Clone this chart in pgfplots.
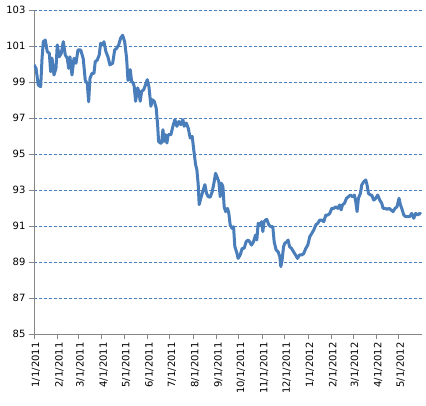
\documentclass[border=0pt]{standalone}
\usepackage{fontspec}
\setmainfont{DejaVu Sans}
\usepackage{pgfplots}
\usepackage{pgfplotstable}
\pgfplotsset{compat=1.18}
\definecolor{lineblue}{RGB}{74,126,187}
\definecolor{axgray}{RGB}{134,134,134}

\pgfplotstableread{
day val
0 99.95
2.7 99.76
5.7 98.83
8.9 98.74
10.7 100.3
12.4 101.24
15.0 101.33
17.7 100.68
20.4 100.6
22.2 99.57
24.0 100.32
26.6 99.39
29.3 99.76
31.0 101.06
33.7 100.4
36.4 100.6
39.0 101.24
41.7 100.5
44.3 100.32
46.2 99.76
47.9 100.4
50.6 99.39
53.3 100.32
55.9 100.04
58.6 100.78
62.2 100.78
65.6 100.3
68.3 99.1
71.0 98.9
72.8 97.9
74.6 99.2
77.2 99.48
79.9 99.48
81.6 100.13
84.3 100.22
86.9 100.5
88.8 101.15
91.5 101.06
93.2 101.24
95.9 100.68
98.5 100.4
101.2 99.95
104.8 100.04
107.5 100.78
110.1 100.87
112.8 101.06
115.4 101.43
118.1 101.6
120.8 101.24
123.4 100.32
125.2 99.1
126.5 99.13
128.2 99.69
130.1 99.04
132.2 98.94
133.5 98.76
135.4 97.93
138.1 98.67
139.8 98.48
141.5 97.93
143.4 98.48
146.1 98.57
148.7 98.85
150.9 99.13
153.1 98.76
155.8 97.65
157.5 98.02
160.2 97.93
162.8 97.56
164.7 96.63
166.0 95.7
168.2 95.61
170.0 95.61
171.8 96.35
173.5 95.7
175.4 96.07
177.1 95.61
178.8 96.07
182.4 96.07
185.1 96.54
187.7 96.91
190.4 96.54
193.1 96.81
195.7 96.63
198.4 96.91
200.1 96.54
202.8 96.72
205.5 96.44
208.1 95.89
210.8 95.98
212.6 95.33
215.3 94.41
217.0 94.13
218.8 93.3
220.1 92.19
222.4 92.56
225.0 92.93
227.7 93.3
229.9 92.81
232.1 92.63
234.7 92.6
237.4 92.9
240.1 93.46
241.9 93.93
244.6 93.65
246.3 93.46
248.1 92.63
249.9 93.37
251.7 93.19
253.4 92.07
255.3 91.8
257.9 91.98
259.6 91.7
261.4 91.06
264.0 90.87
265.9 90.96
267.6 89.85
269.9 89.57
272.0 89.2
274.7 89.39
277.4 89.76
280.0 89.76
282.7 90.13
285.3 90.22
287.2 90.13
289.9 89.94
292.5 90.13
295.2 90.5
296.9 90.22
298.7 91.15
301.3 91.06
303.2 91.24
304.9 90.69
306.6 91.24
308.5 91.33
310.2 91.37
312.9 91.06
315.6 90.96
318.2 90.96
320.0 90.13
322.6 89.67
325.3 89.57
327.5 89.3
328.9 88.74
330.6 89.11
332.5 89.85
334.2 90.04
336.9 90.13
338.6 90.22
340.5 89.85
343.1 89.76
345.8 89.57
348.5 89.39
351.1 89.2
353.8 89.39
356.4 89.39
359.1 89.45
362.2 89.76
364.8 89.94
367.5 90.41
370.2 90.59
372.8 90.78
375.5 91.06
378.1 91.15
380.8 91.33
383.5 91.33
386.1 91.24
388.8 91.61
391.5 91.61
394.1 91.7
396.8 91.98
399.5 91.98
402.1 92.07
404.8 91.98
407.4 92.17
409.2 91.89
411.0 92.17
413.7 92.26
416.4 92.54
419.0 92.63
421.7 92.72
424.4 92.63
427.0 92.72
428.7 92.35
430.5 91.8
432.3 92.54
435.0 92.81
436.7 93.28
439.4 93.46
442.1 93.56
443.8 93.28
445.7 92.81
448.3 92.72
450.0 92.72
452.7 92.44
455.4 92.54
458.0 92.72
460.7 92.44
463.4 92.26
465.1 91.98
467.8 91.98
470.4 91.93
473.1 91.98
475.7 91.89
478.4 91.8
481.1 91.98
483.7 92.07
486.4 92.54
488.3 92.17
490.0 91.98
492.7 91.61
495.3 91.52
498.0 91.52
500.6 91.52
503.3 91.7
506.0 91.43
508.6 91.7
511.3 91.61
514.0 91.7
515.7 91.65
}\pricedata

\begin{document}
\begin{tikzpicture}
\begin{axis}[
  scale only axis,
  width=388pt, height=324pt,
  xmin=0, xmax=517, ymin=85, ymax=103,
  axis x line*=bottom, axis y line*=left,
  axis line style={axgray, line width=0.8pt, -},
  ytick={85,87,...,103},
  xtick={0,31,59,90,120,151,181,212,243,273,304,334,365,396,425,456,486},
  xticklabels={1/1/2011,2/1/2011,3/1/2011,4/1/2011,5/1/2011,6/1/2011,7/1/2011,8/1/2011,9/1/2011,10/1/2011,11/1/2011,12/1/2011,1/1/2012,2/1/2012,3/1/2012,4/1/2012,5/1/2012},
  ymajorgrids,
  major grid style={lineblue, line width=0.7pt, dash pattern=on 3pt off 2pt},
  tick style={axgray, line width=0.8pt},
  major tick length=5pt,
  tick align=outside,
  xticklabel style={rotate=90, anchor=east, yshift=-2pt, font=\fontsize{10}{12}\selectfont},
  yticklabel style={font=\fontsize{10}{12}\selectfont},
  /pgf/number format/assume math mode=true,
  /pgf/number format/1000 sep={},
]
\addplot[lineblue, line width=3pt, line join=round] table[x=day, y=val] {\pricedata};
\coordinate (ll) at (rel axis cs:0,0);
\end{axis}
\pgfresetboundingbox
\path ([shift={(-34pt,-71pt)}]ll) rectangle ++(426pt,405pt);
\end{tikzpicture}
\end{document}
